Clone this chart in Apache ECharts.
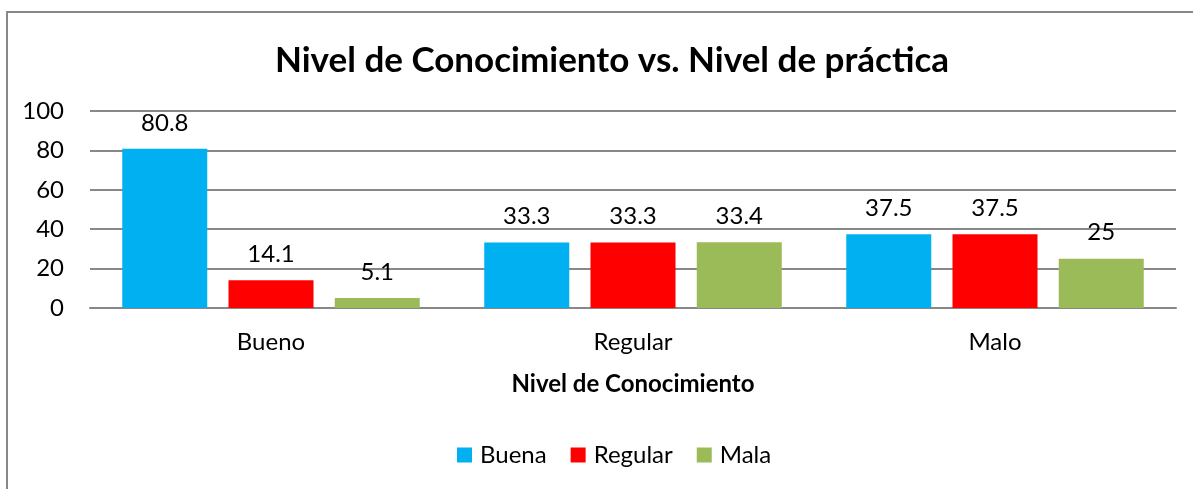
<!DOCTYPE html>
<html>
<head>
<meta charset="utf-8">
<script src="https://cdn.jsdelivr.net/npm/echarts@6/dist/echarts.min.js"></script>
<style>html,body{margin:0;padding:0;background:#fff}#c{width:1193px;height:489px}</style>
</head>
<body>
<div id="c"></div>
<script>
var categories = ['Bueno', 'Regular', 'Malo'];
var buena = [80.8, 33.3, 37.5];
var regular = [14.1, 33.3, 37.5];
var mala = [5.1, 33.4, 25];
var seriesNames = ['Buena', 'Regular', 'Mala'];
var colors = ['#00B0F0', '#FF0000', '#9BBB59'];

var FONT = 'Lato, "Open Sans", sans-serif';
var chart = echarts.init(document.getElementById('c'));
function mk(name, data, color) {
  return {
    name: name, type: 'bar', data: data, barWidth: 85, barGap: '25%',
    itemStyle: { color: color },
    label: { show: true, position: 'top', distance: 14, color: '#000', fontSize: 24, fontFamily: FONT },
    animation: false
  };
}
chart.setOption({
  animation: false,
  color: colors,
  title: {
    text: 'Nivel de Conocimiento vs. Nivel de práctica',
    left: 270, top: 38,
    textStyle: { fontSize: 35, fontWeight: 'bold', color: '#000', fontFamily: FONT }
  },
  graphic: [{
    type: 'rect', shape: { x: 7, y: 12, width: 1400, height: 700 },
    style: { fill: 'none', stroke: '#888', lineWidth: 2 }, silent: true, z: 100
  }],
  legend: {
    data: seriesNames, bottom: 17, left: 452,
    itemWidth: 15, itemHeight: 15, itemGap: 24, icon: 'rect',
    textStyle: { fontSize: 24, color: '#000', fontFamily: FONT, padding: [0, 0, 0, 3] }
  },
  grid: { left: 90, right: 17, top: 111, bottom: 181, containLabel: false },
  xAxis: {
    type: 'category', data: categories,
    axisLine: { lineStyle: { color: '#888', width: 2 } },
    axisTick: { show: false },
    axisLabel: { fontSize: 24, color: '#000', margin: 22, fontFamily: FONT },
    name: 'Nivel de Conocimiento', nameLocation: 'middle', nameGap: 64,
    nameTextStyle: { fontSize: 24, fontWeight: 'bold', color: '#000', fontFamily: FONT }
  },
  yAxis: {
    type: 'value', min: 0, max: 100, interval: 20,
    axisLine: { show: false }, axisTick: { show: false },
    axisLabel: { fontSize: 24, color: '#000', margin: 26, fontFamily: FONT },
    splitLine: { lineStyle: { color: '#888', width: 2 } }
  },
  series: [mk(seriesNames[0], buena, colors[0]), mk(seriesNames[1], regular, colors[1]), mk(seriesNames[2], mala, colors[2])]
});
</script>
</body>
</html>
